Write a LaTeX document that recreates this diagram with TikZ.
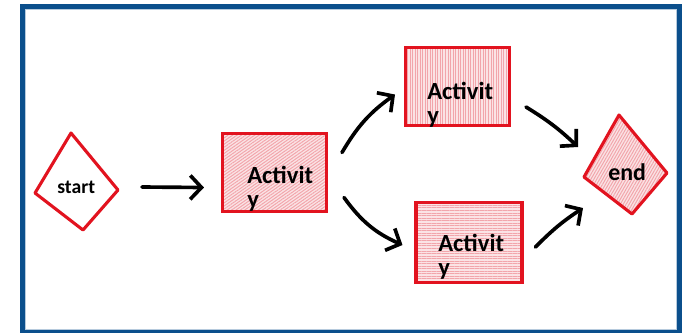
\documentclass[tikz,border=0pt]{standalone}
\usepackage{fontspec}
\setmainfont{Carlito}
\usepackage{xcolor}
\usetikzlibrary{arrows.meta, positioning, calc, patterns.meta}

\definecolor{framebl}{HTML}{0B4F8C}
\definecolor{penred}{HTML}{E2131F}
\definecolor{hatchred}{HTML}{F2A5AB}
\definecolor{washred}{HTML}{FBE3E5}

\tikzset{
  act/.style={rectangle, draw=penred, line width=2.2pt, minimum width=2.6cm, minimum height=1.95cm, inner sep=0pt},
  hatch/.style={preaction={fill=washred}, pattern={Lines[angle=#1, distance=1.8pt, line width=0.7pt]}, pattern color=hatchred},
  lbl/.style={font=\fontsize{17.5}{17}\selectfont\bfseries, align=left, inner sep=0pt, anchor=base west},
  flow/.style={-{Straight Barb[length=8pt, width=17pt]}, line width=2.6pt, line cap=round, line join=round},
}

\begin{document}
\begin{tikzpicture}[x=0.025cm, y=-0.025cm]
    \useasboundingbox (0,0) rectangle (682,332);
    \fill[white] (0,0) rectangle (682,332);
    \draw[framebl, line width=3.6pt] (22.5,6.5) rectangle (679.5,331.5);
    \draw[framebl!30, line width=0.7pt] (25.5,9.5) rectangle (676.5,329);

    \coordinate (st-t) at (71,133);
    \coordinate (st-r) at (118,190);
    \coordinate (st-b) at (83,230);
    \coordinate (st-l) at (35,193);
    \draw[penred, line width=2.2pt, line join=round, fill=white] (st-t) -- (st-r) -- (st-b) -- (st-l) -- cycle;
    \node[lbl, font=\fontsize{14}{14}\selectfont\bfseries] (st) at (57,193) {start};

    \coordinate (en-t) at (619,115);
    \coordinate (en-r) at (667,173);
    \coordinate (en-b) at (632,214);
    \coordinate (en-l) at (584,177);
    \draw[penred, line width=2.2pt, line join=round, hatch=60] (en-t) -- (en-r) -- (en-b) -- (en-l) -- cycle;
    \node[lbl, font=\fontsize{17}{17}\selectfont\bfseries] (en) at (608,180) {end};

    \node[act, hatch=35] (a1) at (274.5,172.5) {};
    \node[act, hatch=90] (a2) at (457.5,86.5) {};
    \node[act, hatch=0, minimum width=2.65cm, minimum height=2cm] (a3) at (469,242.5) {};

    \node[lbl] (a1t) at (247,207) {Activit\\y};
    \node[lbl] (a2t) at (427,123) {Activit\\y};
    \node[lbl] (a3t) at (438,275) {Activit\\y};

    \draw[flow] ($(st-r)+(24,-3)$) -- ($(a1.west)+(-18,15)$);
    \draw[flow] ($(a1.east)+(15,-20)$) to[bend left=12] ($(a2.west)+(-10,8)$);
    \draw[flow] ($(a1.east)+(17,25)$) to[bend right=15] ($(a3.west)+(-13,2.5)$);
    \draw[flow] ($(a2.east)+(16,20.5)$) to[bend left=6] ($(en-l)+(-6,-30)$);
    \draw[flow] ($(a3.east)+(13,4.5)$) to[bend left=6] ($(en-l)+(-1,31)$);
\end{tikzpicture}
\end{document}
